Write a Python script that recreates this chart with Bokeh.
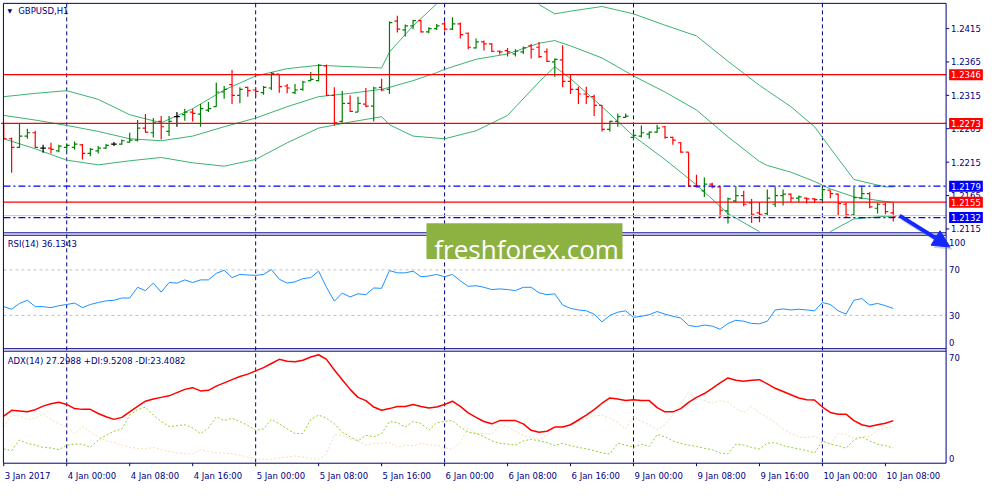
import numpy as np
from bokeh.plotting import figure
from bokeh.models import Range1d, Label, BoxAnnotation, Arrow, NormalHead, ColumnDataSource
from bokeh.embed import file_html
from bokeh.resources import INLINE

NAN = float("nan")

# ---------------- data (GBPUSD, H1) ----------------
bar_open = [1.2273,1.2250,1.2237,1.2254,1.2259,1.2236,1.2236,1.2232,1.2237,1.2237,
            1.2241,1.2228,1.2232,1.2236,1.2242,1.2242,1.2245,1.2248,1.2266,1.2259,
            1.2276,1.2261,1.2283,1.2286,1.2290,1.2287,1.2293,1.2298,1.2320,1.2331,
            1.2315,1.2327,1.2323,1.2319,1.2326,1.2347,1.2329,1.2319,1.2324,1.2337,
            1.2337,1.2359,1.2315,1.2276,1.2303,1.2290,1.2302,1.2299,1.2327,1.2324,
            1.2426,1.2413,1.2419,1.2427,1.2410,1.2415,1.2422,1.2414,1.2422,1.2408,
            1.2386,1.2395,1.2392,1.2381,1.2382,1.2377,1.2380,1.2389,1.2387,1.2380,
            1.2365,1.2368,1.2336,1.2324,1.2317,1.2313,1.2300,1.2264,1.2276,1.2282,
            1.2252,1.2254,1.2257,1.2260,1.2268,1.2252,1.2244,1.2230,1.2179,1.2172,
            1.2182,1.2178,1.2142,1.2157,1.2165,1.2154,1.2139,1.2138,1.2152,1.2165,
            1.2167,1.2161,1.2161,1.2160,1.2159,1.2173,1.2167,1.2152,1.2136,1.2161,
            1.2168,1.2146,1.2152,1.2139]
bar_high = [1.2274,1.2252,1.2273,1.2265,1.2262,1.2241,1.2244,1.2241,1.2242,1.2246,
            1.2242,1.2236,1.2239,1.2242,1.2245,1.2249,1.2259,1.2278,1.2287,1.2281,
            1.2284,1.2284,1.2290,1.2295,1.2295,1.2302,1.2305,1.2334,1.2329,1.2353,
            1.2327,1.2328,1.2327,1.2329,1.2350,1.2347,1.2332,1.2332,1.2337,1.2350,
            1.2362,1.2361,1.2327,1.2322,1.2315,1.2313,1.2326,1.2328,1.2340,1.2426,
            1.2434,1.2421,1.2428,1.2428,1.2417,1.2422,1.2426,1.2432,1.2424,1.2409,
            1.2400,1.2397,1.2393,1.2382,1.2386,1.2384,1.2388,1.2392,1.2395,1.2385,
            1.2370,1.2390,1.2347,1.2328,1.2328,1.2316,1.2300,1.2277,1.2288,1.2288,
            1.2261,1.2270,1.2261,1.2271,1.2269,1.2253,1.2245,1.2230,1.2196,1.2192,
            1.2184,1.2179,1.2162,1.2179,1.2172,1.2160,1.2155,1.2174,1.2178,1.2174,
            1.2168,1.2165,1.2162,1.2161,1.2177,1.2173,1.2168,1.2155,1.2178,1.2178,
            1.2170,1.2154,1.2154,1.2154]
bar_low = [1.2249,1.2199,1.2236,1.2250,1.2236,1.2229,1.2228,1.2230,1.2232,1.2234,
           1.2219,1.2224,1.2228,1.2235,1.2239,1.2241,1.2244,1.2246,1.2259,1.2252,
           1.2249,1.2254,1.2268,1.2277,1.2276,1.2268,1.2290,1.2298,1.2310,1.2302,
           1.2303,1.2313,1.2313,1.2316,1.2323,1.2319,1.2318,1.2317,1.2322,1.2336,
           1.2336,1.2314,1.2270,1.2274,1.2290,1.2290,1.2297,1.2276,1.2321,1.2317,
           1.2409,1.2403,1.2414,1.2409,1.2408,1.2413,1.2412,1.2413,1.2400,1.2384,
           1.2385,1.2382,1.2380,1.2376,1.2373,1.2373,1.2377,1.2370,1.2371,1.2365,
           1.2343,1.2327,1.2317,1.2302,1.2302,1.2284,1.2261,1.2261,1.2268,1.2281,
           1.2249,1.2252,1.2250,1.2259,1.2250,1.2241,1.2229,1.2178,1.2177,1.2163,
           1.2176,1.2132,1.2123,1.2155,1.2149,1.2124,1.2125,1.2136,1.2148,1.2150,
           1.2155,1.2155,1.2153,1.2154,1.2158,1.2161,1.2136,1.2133,1.2136,1.2160,
           1.2146,1.2138,1.2137,1.2126]
bar_close = [1.2250,1.2237,1.2254,1.2259,1.2237,1.2236,1.2234,1.2239,1.2240,1.2242,
             1.2228,1.2234,1.2236,1.2240,1.2242,1.2247,1.2248,1.2266,1.2260,1.2274,
             1.2268,1.2276,1.2283,1.2290,1.2288,1.2295,1.2295,1.2320,1.2324,1.2315,
             1.2324,1.2322,1.2321,1.2327,1.2348,1.2328,1.2326,1.2323,1.2335,1.2339,
             1.2360,1.2315,1.2274,1.2303,1.2291,1.2303,1.2299,1.2326,1.2323,1.2424,
             1.2414,1.2419,1.2427,1.2410,1.2415,1.2419,1.2414,1.2422,1.2406,1.2387,
             1.2395,1.2392,1.2381,1.2380,1.2380,1.2381,1.2386,1.2384,1.2373,1.2366,
             1.2369,1.2336,1.2324,1.2317,1.2313,1.2300,1.2264,1.2276,1.2283,1.2284,
             1.2255,1.2259,1.2260,1.2266,1.2252,1.2248,1.2230,1.2179,1.2178,1.2182,
             1.2178,1.2143,1.2160,1.2165,1.2152,1.2137,1.2137,1.2161,1.2165,1.2167,
             1.2161,1.2163,1.2160,1.2159,1.2174,1.2168,1.2153,1.2136,1.2162,1.2168,
             1.2148,1.2152,1.2141,1.2134]

# Bollinger bands (read at selected bars; NaN = outside the visible chart)
bb_bar = [0,4,8,12,16,20,24,28,32,36,40,44,48,49,52,55,56,60,64,68,70,72,76,80,84,88,92,96,97,100,103,105,108,112,113]
bb_upper = [1.2313,1.2318,1.2322,1.2309,1.2286,1.2274,1.2295,1.2323,1.2344,1.2355,1.2360,1.2358,1.2356,1.2380,
            1.2419,1.2452,NAN,NAN,NAN,1.2451,1.2437,1.2441,1.2448,1.2437,1.2420,1.2404,1.2366,1.2330,1.2322,
            1.2298,1.2268,1.2236,1.2189,1.2178,1.2178]
bb_middle = [1.2285,1.2278,1.2270,1.2261,1.2250,1.2247,1.2254,1.2268,1.2281,1.2298,1.2313,1.2318,1.2324,1.2327,
             1.2337,1.2349,1.2354,1.2369,1.2377,1.2393,1.2397,1.2389,1.2371,1.2344,1.2320,1.2293,1.2253,1.2216,1.2210,
             1.2200,1.2186,1.2175,1.2163,1.2156,1.2155]
bb_lower = [1.2250,1.2235,1.2218,1.2211,1.2217,1.2222,1.2214,1.2209,1.2219,1.2244,1.2266,1.2275,1.2283,1.2271,
            1.2254,1.2251,1.2250,1.2262,1.2285,1.2335,1.2358,1.2340,1.2298,1.2254,1.2219,1.2181,1.2138,1.2111,NAN,
            NAN,NAN,1.2111,1.2130,1.2134,1.2133]

rsi = [37.7,35.4,40.5,43.3,37.7,37.7,36.8,38.5,39.6,40.8,
       36.8,39.6,41.3,42.8,43.3,45.3,45.3,54.7,51.8,58.4,
       50.4,58.9,58.4,61.2,58.9,61.2,61.2,66.9,69.7,63.2,
       66.0,65.5,65.2,66.0,70.3,61.8,58.4,59.5,62.3,63.2,
       68.9,54.7,42.5,49.6,46.2,49.0,48.2,54.1,53.8,69.4,
       67.4,67.4,68.9,64.0,64.6,66.0,64.0,66.0,60.4,55.5,
       56.1,54.7,52.7,53.3,52.7,51.8,54.7,54.7,49.9,48.2,
       49.0,39.1,36.2,34.8,34.0,31.1,24.3,30.0,32.8,34.0,
       28.3,29.2,30.6,33.4,31.1,29.2,27.7,21.2,20.1,21.5,
       20.6,17.8,22.9,25.7,24.9,22.9,22.6,24.9,34.8,35.7,
       34.8,35.4,34.8,34.0,41.3,39.6,34.0,31.1,43.3,44.8,
       39.1,40.5,38.5,36.1]
adx = [30.2,34.0,33.6,33.0,34.4,36.7,38.2,39.2,37.8,35.1,
       34.6,34.6,31.9,29.8,28.1,29.4,33.0,36.5,39.9,41.3,
       42.4,43.4,45.5,47.6,48.7,46.6,47.0,49.7,51.8,53.9,
       56.0,57.5,59.6,61.7,64.4,67.1,65.9,65.5,66.5,68.6,
       70.1,67.1,60.2,53.9,47.6,42.4,40.3,36.1,34.0,35.1,
       36.5,36.5,37.8,36.5,35.5,36.1,37.8,39.9,36.5,32.3,
       29.4,26.7,25.2,27.3,27.3,27.3,25.2,21.0,19.8,20.4,
       23.1,23.1,24.6,27.7,30.9,34.4,38.6,42.0,41.3,40.3,
       40.9,40.3,40.3,35.7,33.0,33.0,35.1,39.2,42.4,44.9,
       48.3,51.8,55.0,53.5,52.9,53.5,53.9,51.2,48.3,46.2,
       44.1,42.0,40.9,40.7,36.1,32.6,31.5,31.5,27.3,24.6,
       23.5,24.6,25.6,27.3]
plus_di = [8.9,7.8,14.7,12.4,11.4,9.9,9.5,8.4,11.4,12.0,
           12.0,9.9,14.7,17.7,20.4,21.9,30.9,34.4,36.1,30.9,
           26.7,23.5,24.0,24.6,22.5,18.9,22.5,29.8,27.3,28.8,
           26.7,24.2,21.0,21.9,28.1,25.2,21.9,18.9,18.9,28.1,
           30.9,28.8,25.2,19.8,16.8,14.1,17.7,16.8,18.9,26.7,
           26.0,23.1,26.7,25.6,21.0,26.0,26.7,27.3,23.1,19.8,
           18.9,16.8,14.1,12.6,12.0,11.4,14.1,15.2,14.1,13.1,
           11.0,12.6,11.0,9.9,8.9,7.8,6.3,5.7,12.6,11.4,
           9.9,12.0,10.5,18.3,16.8,14.1,12.6,11.4,10.5,9.3,
           8.4,6.3,5.7,12.0,11.4,9.9,8.9,12.6,13.1,11.0,
           9.9,8.9,7.8,6.3,14.1,12.0,11.0,9.3,14.7,16.8,
           14.1,12.0,11.0,9.5]
minus_di = [23.1,30.9,30.3,28.1,28.8,31.9,28.1,25.2,23.5,18.9,
            23.5,19.8,16.8,14.1,13.1,11.4,9.9,9.3,8.9,9.9,
            8.4,7.2,6.3,5.7,5.7,8.4,7.2,6.3,6.3,5.7,
            4.7,3.6,2.6,2.2,2.2,3.0,3.6,4.3,3.6,2.6,
            2.2,5.7,18.3,17.7,15.6,14.1,11.4,12.6,12.6,13.1,
            9.9,11.4,11.0,12.6,11.4,11.4,9.9,8.4,13.1,22.5,
            18.9,18.9,18.3,24.6,23.5,20.4,17.7,16.2,15.2,17.7,
            23.5,22.5,24.6,26.7,28.8,30.3,30.9,28.8,26.0,21.9,
            29.4,26.7,24.6,21.4,24.6,30.9,38.2,45.5,41.3,40.3,
            38.6,40.3,39.2,35.1,32.3,36.5,32.3,29.4,26.0,21.9,
            18.9,16.8,16.2,17.2,14.1,12.0,18.9,18.3,15.6,16.8,
            17.2,21.0,22.5,23.4]

time_labels = ["3 Jan 2017", "4 Jan 00:00", "4 Jan 08:00", "4 Jan 16:00", "5 Jan 00:00",
               "5 Jan 08:00", "5 Jan 16:00", "6 Jan 00:00", "6 Jan 08:00", "6 Jan 16:00",
               "9 Jan 00:00", "9 Jan 08:00", "9 Jan 16:00", "10 Jan 00:00", "10 Jan 08:00"]
time_label_bars = [0, 8, 16, 24, 32, 40, 48, 56, 64, 72, 80, 88, 96, 104, 112]
day_start_bars = [8, 32, 56, 80, 104]
price_ticks = [1.2415, 1.2365, 1.2315, 1.2265, 1.2215, 1.2165, 1.2115]
red_levels = [1.2346, 1.2273, 1.2155]
blue_levels = [1.2179, 1.2132]
bid_price = 1.2135
rsi_levels = [70, 30]
rsi_scale_text = ["100", "70", "30", "0"]
rsi_scale_pos = [94.3, 70, 30, 5.8]
adx_scale_text = ["70", "0"]
adx_scale_pos = [68.0, 3.0]
arrow_from = (113.8, 1.2135)
arrow_to = (120.2, 1.2088)

# ---------------- geometry ----------------
W, H = 984, 484
XR = (-0.4125, 124.5875)           # bar index over the whole canvas
PR = (1.17324, 1.24570)            # price over the whole canvas
RR = (-118.68, 306.85)             # RSI over the whole canvas
AR = (-14.21, 300.25)              # ADX over the whole canvas
X_START, X_END = -0.04, 119.71     # chart area left / right edge
PRICE_TOP, PRICE_BOTTOM = 1.24527, 1.21092
CHART_BOTTOM_PRICE = 1.17643
RSI_TOP, RSI_BOTTOM = 100.47, 0.72
ADX_TOP, ADX_BOTTOM = 72.4, -0.38
TIME_LABEL_Y = -9.0
X_PX = (XR[1] - XR[0]) / W
A_PX = (AR[1] - AR[0]) / H

NAVY = "#000080"
FONT = "DejaVu Sans"
FS = "8.5px"
TICK = 0.36

p = figure(width=W, height=H, x_range=Range1d(*XR), y_range=Range1d(*PR),
           output_backend="svg", toolbar_location=None, x_axis_location=None, y_axis_location=None,
           min_border=0, title=None)
p.extra_y_ranges = {"rsi": Range1d(*RR), "adx": Range1d(*AR)}
p.xgrid.visible = False
p.ygrid.visible = False
p.outline_line_color = None
p.background_fill_color = "white"
p.border_fill_color = "white"

# day separators (under everything)
p.segment(x0=day_start_bars, y0=[PRICE_TOP] * 5, x1=day_start_bars, y1=[CHART_BOTTOM_PRICE] * 5,
          line_color=NAVY, line_dash="4 3", line_width=1)

# RSI level lines
p.segment(x0=[X_START] * 2, y0=rsi_levels, x1=[X_END] * 2, y1=rsi_levels, y_range_name="rsi",
          line_color="#C0C0C0", line_dash="3 3", line_width=1)

# Bollinger bands
bb_src = ColumnDataSource(dict(x=bb_bar, up=np.array(bb_upper), mid=np.array(bb_middle), lo=np.array(bb_lower)))
for col in ("up", "mid", "lo"):
    p.line("x", col, source=bb_src, line_color="#3CB371", line_width=1)

# OHLC bars
bars = list(range(len(bar_open)))
colors = ["#008000" if c > o else ("#FF0000" if c < o else "#000000") for o, c in zip(bar_open, bar_close)]
src = ColumnDataSource(dict(x=bars, xl=[b - TICK for b in bars], xr=[b + TICK for b in bars],
                            o=bar_open, h=bar_high, l=bar_low, c=bar_close, col=colors))
p.segment(x0="x", y0="l", x1="x", y1="h", line_color="col", line_width=1.2, source=src)
p.segment(x0="xl", y0="o", x1="x", y1="o", line_color="col", line_width=1.2, source=src)
p.segment(x0="x", y0="c", x1="xr", y1="c", line_color="col", line_width=1.2, source=src)

# price levels
p.segment(x0=[X_START], y0=[bid_price], x1=[X_END], y1=[bid_price], line_color="#C8C8C8", line_width=1)
p.segment(x0=[X_START] * 3, y0=red_levels, x1=[X_END] * 3, y1=red_levels, line_color="#FF0000", line_width=1.3)
p.segment(x0=[X_START] * 2, y0=blue_levels, x1=[X_END] * 2, y1=blue_levels, line_color="#0000FF",
          line_width=1.3, line_dash="7 3 2 3")

# RSI
p.line(bars, rsi, y_range_name="rsi", line_color="#1E90FF", line_width=1)

# ADX
p.line(bars, minus_di, y_range_name="adx", line_color="#F5DEB3", line_width=1, line_dash="2 2")
p.line(bars, plus_di, y_range_name="adx", line_color="#9ACD32", line_width=1, line_dash="2 2")
p.line(bars, adx, y_range_name="adx", line_color="#FF0000", line_width=1.5)

# panel frames
p.segment(x0=[X_START, X_START], y0=[PRICE_TOP, PRICE_BOTTOM], x1=[X_END, X_END], y1=[PRICE_TOP, PRICE_BOTTOM],
          line_color=NAVY, line_width=1)
p.segment(x0=[X_START, X_START], y0=[RSI_TOP, RSI_BOTTOM], x1=[X_END, X_END], y1=[RSI_TOP, RSI_BOTTOM],
          y_range_name="rsi", line_color=NAVY, line_width=1)
p.segment(x0=[X_START, X_START], y0=[ADX_TOP, ADX_BOTTOM], x1=[X_END, X_END], y1=[ADX_TOP, ADX_BOTTOM],
          y_range_name="adx", line_color=NAVY, line_width=1)
p.segment(x0=[X_START, X_END], y0=[PRICE_TOP, PRICE_TOP], x1=[X_START, X_END],
          y1=[CHART_BOTTOM_PRICE, CHART_BOTTOM_PRICE], line_color=NAVY, line_width=1)

# axis tick marks
p.segment(x0=[X_END] * len(price_ticks), y0=price_ticks, x1=[X_END + 3 * X_PX] * len(price_ticks), y1=price_ticks,
          line_color=NAVY, line_width=1)
n_t = len(time_label_bars)
p.segment(x0=time_label_bars, y0=[ADX_BOTTOM] * n_t, x1=time_label_bars, y1=[ADX_BOTTOM - 3 * A_PX] * n_t,
          y_range_name="adx", line_color=NAVY, line_width=1)

# watermark
p.add_layout(BoxAnnotation(left=53.7, right=78.6, bottom=1.20701, top=1.21237,
                           fill_color="#8DB242", fill_alpha=1.0, line_color=None))
p.add_layout(Label(x=54.7, y=1.20850, text="freshforex.com", text_color="white", text_font="Open Sans",
                   text_font_size="26px", text_align="left", text_baseline="alphabetic"))

# arrow (shadow + arrow)
p.add_layout(Arrow(end=NormalHead(size=17, fill_color="#7080A0", fill_alpha=0.35, line_color=None),
                   x_start=arrow_from[0] + 0.3, y_start=arrow_from[1] - 0.0004,
                   x_end=arrow_to[0] + 0.3, y_end=arrow_to[1] - 0.0004,
                   line_color="#7080A0", line_alpha=0.35, line_width=4))
p.add_layout(Arrow(end=NormalHead(size=17, fill_color="#1428FF", line_color="#1428FF"),
                   x_start=arrow_from[0], y_start=arrow_from[1], x_end=arrow_to[0], y_end=arrow_to[1],
                   line_color="#1428FF", line_width=4))

# panel captions
p.add_layout(Label(x=0.78, y=1.24414, text="\u25BC", text_color=NAVY, text_font=FONT, text_font_size="6px",
                   text_align="center", text_baseline="middle"))
p.add_layout(Label(x=1.84, y=1.24414, text="GBPUSD,H1", text_color=NAVY, text_font=FONT, text_font_size=FS,
                   text_align="left", text_baseline="middle"))
p.add_layout(Label(x=0.5, y=92.6, y_range_name="rsi", text="RSI(14) 36.1343", text_color=NAVY, text_font=FONT,
                   text_font_size=FS, text_align="left", text_baseline="middle"))
p.add_layout(Label(x=0.5, y=66.3, y_range_name="adx", text="ADX(14) 27.2988 +DI:9.5208 -DI:23.4082",
                   text_color=NAVY, text_font=FONT, text_font_size=FS, text_align="left", text_baseline="middle"))

# right scale labels
for v in price_ticks:
    p.add_layout(Label(x=X_END, y=v, x_offset=5, text=f"{v:.4f}", text_color=NAVY, text_font=FONT,
                       text_font_size=FS, text_align="left", text_baseline="middle"))
for t, v in zip(rsi_scale_text, rsi_scale_pos):
    p.add_layout(Label(x=X_END, y=v, y_range_name="rsi", x_offset=3, text=t, text_color=NAVY, text_font=FONT,
                       text_font_size=FS, text_align="left", text_baseline="middle"))
for t, v in zip(adx_scale_text, adx_scale_pos):
    p.add_layout(Label(x=X_END, y=v, y_range_name="adx", x_offset=3, text=t, text_color=NAVY, text_font=FONT,
                       text_font_size=FS, text_align="left", text_baseline="middle"))

# price level tags
def tag(level, color):
    lab = Label(x=X_END, y=level, x_offset=3, text=f"{level:.4f}", text_color="white", text_font=FONT,
                text_font_size=FS, text_align="left", text_baseline="middle",
                background_fill_color=color, background_fill_alpha=1.0)
    try:
        lab.padding = 2
    except Exception:
        pass
    p.add_layout(lab)

for lv in red_levels:
    tag(lv, "#FF0000")
for lv in blue_levels:
    tag(lv, "#0000FF")

# time labels
for t, b in zip(time_labels, time_label_bars):
    p.add_layout(Label(x=b, y=TIME_LABEL_Y, y_range_name="adx", x_offset=1, text=t, text_color=NAVY,
                       text_font=FONT, text_font_size=FS, text_align="left", text_baseline="alphabetic"))

open("out.html", "w").write(file_html(p, INLINE))
